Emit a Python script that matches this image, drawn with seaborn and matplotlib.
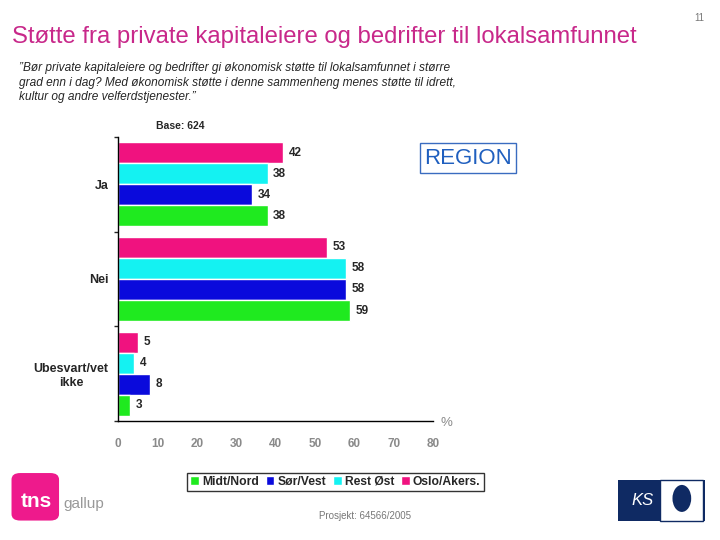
import pandas as pd
import matplotlib.pyplot as plt
import matplotlib.patches as mpatches
from matplotlib.ticker import FixedLocator
import seaborn as sns

# Data
categories = ["Ja", "Nei", "Ubesvart/vet\nikke"]
regions = ["Oslo/Akers.", "Rest Øst", "Sør/Vest", "Midt/Nord"]
oslo_akers = [42, 53, 5]
rest_ost = [38, 58, 4]
sor_vest = [34, 58, 8]
midt_nord = [38, 59, 3]
x_ticks = [0, 10, 20, 30, 40, 50, 60, 70, 80]

colors = {"Oslo/Akers.": "#F0127F", "Rest Øst": "#14F2F2",
          "Sør/Vest": "#0A0ADC", "Midt/Nord": "#1FEA1F"}

df = pd.DataFrame({
    "svar": categories * 4,
    "region": [r for r in regions for _ in categories],
    "prosent": oslo_akers + rest_ost + sor_vest + midt_nord,
})

sns.set_style("white")
plt.rcParams["font.family"] = ["Liberation Sans", "DejaVu Sans"]

fig = plt.figure(figsize=(7.2, 5.4), dpi=100)
ax = fig.add_axes([0.164, 0.2204, 0.4375, 0.526])

sns.barplot(data=df, y="svar", x="prosent", hue="region", hue_order=regions,
            order=categories, palette=colors, orient="h", width=0.89, gap=0,
            saturation=1, ax=ax, legend=True)

for c in ax.containers:
    ax.bar_label(c, fmt="%g", padding=4, fontsize=8.5, fontweight="bold")

ax.set_xlim(0, 80)
ax.set_ylim(2.5, -0.5)
ax.set_xlabel("")
ax.set_ylabel("")
ax.set_xticks(x_ticks)
ax.tick_params(axis="x", direction="out", length=4, width=1, color="black",
               pad=8, labelsize=8.5, labelcolor="#8a8a8a")
for lab in ax.get_xticklabels():
    lab.set_fontweight("bold")
ax.tick_params(axis="y", which="major", length=0, labelsize=9, pad=7)
for lab in ax.get_yticklabels():
    lab.set_fontweight("bold")
    lab.set_multialignment("center")
ax.yaxis.set_minor_locator(FixedLocator([-0.5, 0.5, 1.5, 2.5]))
ax.tick_params(axis="y", which="minor", left=True, direction="out", length=3, width=1)

for s in ["top", "right"]:
    ax.spines[s].set_visible(False)
for s in ["left", "bottom"]:
    ax.spines[s].set_color("black")
    ax.spines[s].set_linewidth(1)
ax.spines["bottom"].set_bounds(0, 80)

# legend below, reversed order like the original
handles, labels = ax.get_legend_handles_labels()
ax.get_legend().remove()
leg = fig.legend(handles[::-1], labels[::-1], loc="center",
                 bbox_to_anchor=(0.466, 0.108), ncol=4, frameon=True,
                 fancybox=False, edgecolor="black", handlelength=0.7,
                 handleheight=0.7, handletextpad=0.25, columnspacing=0.6,
                 borderpad=0.25, prop={"size": 8.7, "weight": "bold"})
leg.get_frame().set_linewidth(1)

# texts
fig.text(0.016, 0.932, "Støtte fra private kapitaleiere og bedrifter til lokalsamfunnet",
         fontsize=17.2, color="#C8288A", va="center")
fig.text(0.978, 0.966, "11", fontsize=7, color="#777777", ha="right", va="center")
fig.text(0.026, 0.885,
         "\u201dBør private kapitaleiere og bedrifter gi økonomisk støtte til lokalsamfunnet i større\n"
         "grad enn i dag? Med økonomisk støtte i denne sammenheng menes støtte til idrett,\n"
         "kultur og andre velferdstjenester.\u201d",
         fontsize=8.6, style="italic", va="top", linespacing=1.28)
fig.text(0.251, 0.767, "Base: 624", fontsize=7.5, fontweight="bold", ha="center", va="center")
fig.text(0.65, 0.707, "REGION", fontsize=16, color="#1F5FBF", ha="center", va="center",
         bbox=dict(boxstyle="square,pad=0.2", fc="white", ec="#3A6CC0", lw=1))
fig.text(0.62, 0.216, "%", fontsize=9.5, color="#8a8a8a", ha="center", va="center")
fig.text(0.507, 0.045, "Prosjekt: 64566/2005", fontsize=7, color="#777777",
         ha="center", va="center")

# tns gallup logo (simplified)
fig.patches.append(mpatches.FancyBboxPatch((0.016, 0.036), 0.066, 0.088,
                                           boxstyle="round,pad=0.0,rounding_size=0.012",
                                           transform=fig.transFigure, fc="#EE1A8C", ec="none"))
fig.text(0.05, 0.072, "tns", fontsize=15, fontweight="bold", color="white",
         ha="center", va="center")
fig.text(0.088, 0.066, "gallup", fontsize=11, color="#999999", ha="left", va="center")

# KS logo (simplified)
fig.patches.append(mpatches.Rectangle((0.858, 0.035), 0.121, 0.076,
                                      transform=fig.transFigure, fc="#0F2A63", ec="none"))
fig.text(0.892, 0.073, "KS", fontsize=12, style="italic", color="white",
         ha="center", va="center")
fig.patches.append(mpatches.Rectangle((0.917, 0.035), 0.06, 0.076,
                                      transform=fig.transFigure, fc="white", ec="#0F2A63"))
fig.patches.append(mpatches.Ellipse((0.947, 0.077), 0.026, 0.05,
                                    transform=fig.transFigure, fc="#0F2A63", ec="none"))

fig.savefig("out.png", dpi=100)
